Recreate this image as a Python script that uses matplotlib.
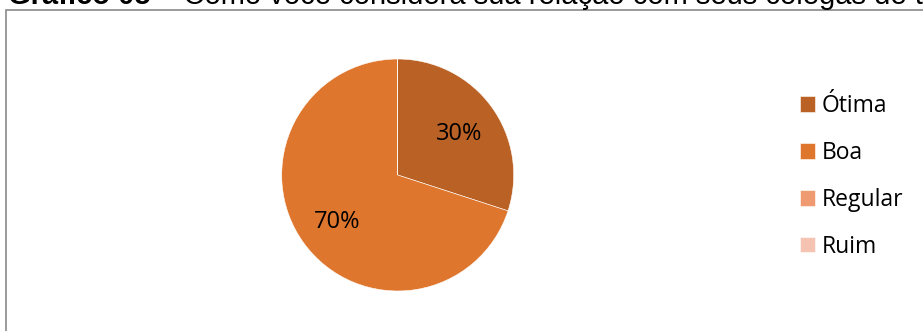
import numpy as np
import matplotlib
matplotlib.use("Agg")
import matplotlib.pyplot as plt
from matplotlib.patches import Rectangle

# data
categories = ["Ótima", "Boa", "Regular", "Ruim"]
values = [30, 70, 0, 0]
colors = ["#BA6125", "#DF762E", "#F09A72", "#F5C3B2"]

title_bold = "Gráfico 05"
title_rest = " – Como você considera sua relação com seus colegas de trabalho?"

W, H = 923, 331
fig = plt.figure(figsize=(W / 100, H / 100), dpi=100)

# pie axes: centre (398,175) px, radius 116 px
cx, cy, r = 397.7, 175, 116
ax = fig.add_axes([(cx - r) / W, (H - cy - r) / H, 2 * r / W, 2 * r / H])

def fmt(p):
    return "%d%%" % round(p) if p > 0 else ""

wedges, texts, autotexts = ax.pie(values, colors=colors, startangle=90, counterclock=False,
                                  autopct=fmt, pctdistance=0.65,
                                  wedgeprops=dict(edgecolor="white", linewidth=0.4),
                                  textprops=dict(fontsize=17, family="Open Sans", color="black"))
# labels sit a little lower in the source
for t in autotexts:
    x, y = t.get_position()
    t.set_position((x, y - 3 / r))
ax.set_xlim(-1, 1)
ax.set_ylim(-1, 1)
ax.set_aspect("equal")

leg = ax.legend(wedges, categories, loc="upper left", bbox_to_anchor=(800 / W, 1 - 94 / H),
                bbox_transform=fig.transFigure, frameon=False,
                prop=dict(family="Open Sans", size=16.5),
                handlelength=0.66, handleheight=0.66, handletextpad=0.3,
                labelspacing=1.0, borderaxespad=0, borderpad=0)

# grey border of the chart area (runs off the right and bottom edges)
fig.patches.append(Rectangle((6 / W, -0.2), 1.2, 1.2 - 10 / H, transform=fig.transFigure,
                             fill=False, edgecolor="#8a8a8a", linewidth=1.2))

# title, cut off at the top like the source
t1 = fig.text(8 / W, 1 - 4 / H, title_bold, fontsize=21, fontweight="bold",
              family="Liberation Sans", va="baseline", ha="left")
fig.canvas.draw()
bb = t1.get_window_extent()
fig.text(bb.x1 / W, 1 - 4 / H, title_rest, fontsize=21,
         family="Liberation Sans", va="baseline", ha="left")

fig.savefig("out.png", dpi=100)
